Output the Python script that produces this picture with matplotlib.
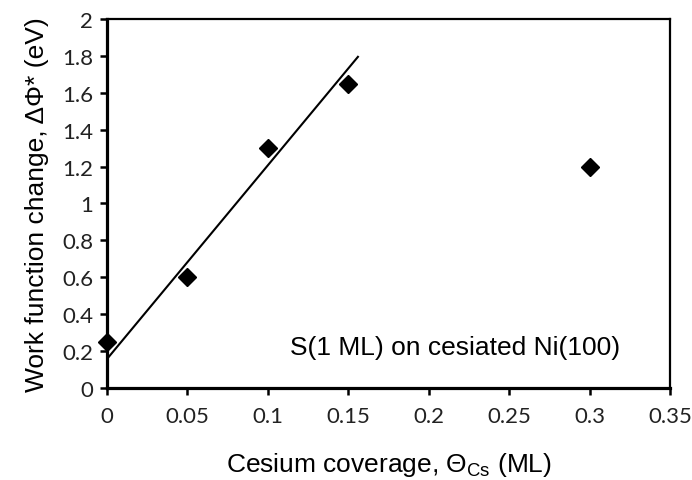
import matplotlib
matplotlib.use("Agg")
import matplotlib.pyplot as plt
import numpy as np

# Data
coverage = [0.0, 0.05, 0.10, 0.15, 0.30]
work_change = [0.25, 0.60, 1.30, 1.65, 1.20]
fit_x = [0.0, 0.156]
fit_intercept = 0.157
fit_slope = 10.5
xticks = [0, 0.05, 0.1, 0.15, 0.2, 0.25, 0.3, 0.35]
xticklabels = ["0", "0.05", "0.1", "0.15", "0.2", "0.25", "0.3", "0.35"]
yticks = [0, 0.2, 0.4, 0.6, 0.8, 1, 1.2, 1.4, 1.6, 1.8, 2]
yticklabels = ["0", "0.2", "0.4", "0.6", "0.8", "1", "1.2", "1.4", "1.6", "1.8", "2"]

plt.rcParams['mathtext.fontset'] = 'custom'
plt.rcParams['mathtext.rm'] = 'Liberation Sans'
plt.rcParams['mathtext.it'] = 'Liberation Sans:italic'

fig = plt.figure(figsize=(6.92, 4.81), dpi=100)
ax = fig.add_axes([0.1546, 0.1913, 0.8136, 0.7671])

fx = np.array(fit_x)
ax.plot(fx, fit_intercept + fit_slope * fx, color='black', lw=1.5, zorder=2)
ax.plot(coverage, work_change, linestyle='none', marker='D', ms=9.5,
        color='black', zorder=3, clip_on=False)

ax.set_xlim(0, 0.35)
ax.set_ylim(0, 2)
ax.set_xticks(xticks)
ax.set_xticklabels(xticklabels)
ax.set_yticks(yticks)
ax.set_yticklabels(yticklabels)

for side in ['left', 'bottom']:
    ax.spines[side].set_linewidth(2.3)
for side in ['top', 'right']:
    ax.spines[side].set_linewidth(1.6)

ax.tick_params(axis='both', direction='out', length=5, width=1.8,
               colors='black', labelsize=16, labelcolor='#222222')
for lab in ax.get_xticklabels() + ax.get_yticklabels():
    lab.set_fontfamily('Lato')
ax.tick_params(axis='x', pad=8)
ax.tick_params(axis='y', pad=5)

ax.set_xlabel("Cesium coverage, Θ$_{\\mathrm{Cs}}$ (ML)", fontsize=19,
              family='Liberation Sans', labelpad=17)
ax.set_ylabel("Work function change, ΔΦ* (eV)", fontsize=19,
              family='Liberation Sans', labelpad=9)

ax.text(0.114, 0.22, "S(1 ML) on cesiated Ni(100)", fontsize=19,
        family='Liberation Sans', ha='left', va='center')

fig.savefig("out.png", dpi=100)
